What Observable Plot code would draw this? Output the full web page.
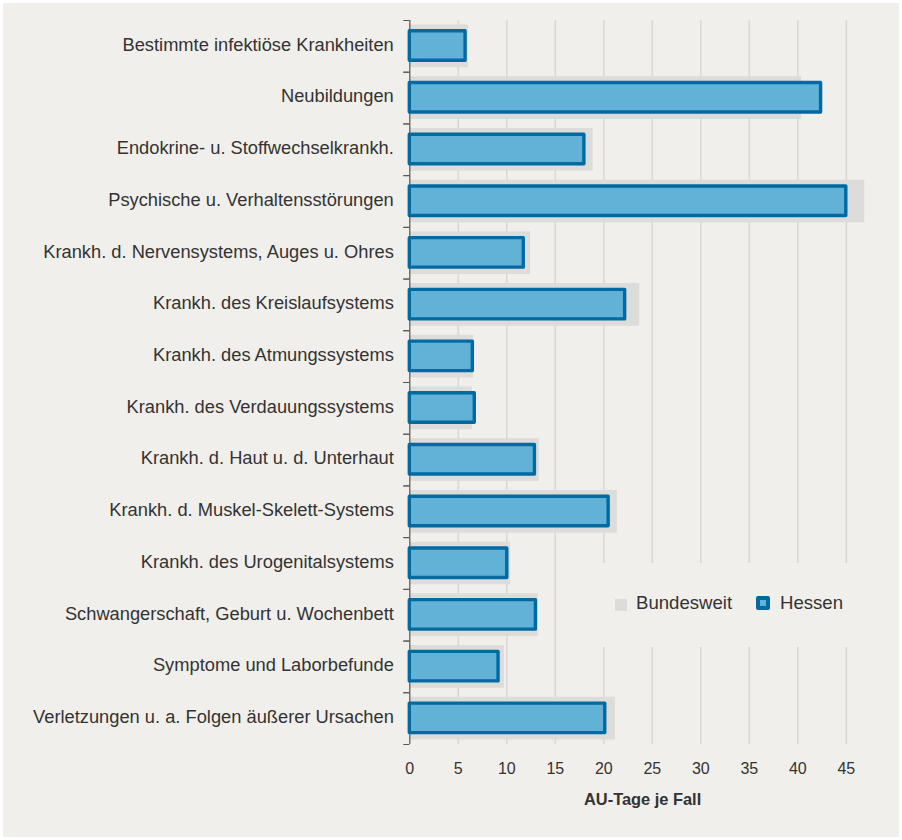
<!DOCTYPE html>
<html>
<head>
<meta charset="utf-8">
<script src="https://cdn.jsdelivr.net/npm/d3@7"></script>
<script src="https://cdn.jsdelivr.net/npm/@observablehq/plot@0.6"></script>
<style>
  html, body { margin: 0; padding: 0; background: #ffffff; }
  #wrap { position: absolute; left: 3px; top: 3px; width: 896px; height: 834px; background: #f1efeb; overflow: hidden; }
  #legend { position: absolute; left: 575px; top: 560px; width: 292px; height: 84px; background: #f1efeb;
            font-family: "Liberation Sans", Arial, sans-serif; font-size: 18.6px; color: #333; }
  #legend .sw { position: absolute; box-sizing: border-box; }
  #legend .lbl { position: absolute; line-height: 18px; white-space: nowrap; }
</style>
</head>
<body>
<div id="wrap"></div>
<script>
const categories = [
  "Bestimmte infektiöse Krankheiten",
  "Neubildungen",
  "Endokrine- u. Stoffwechselkrankh.",
  "Psychische u. Verhaltensstörungen",
  "Krankh. d. Nervensystems, Auges u. Ohres",
  "Krankh. des Kreislaufsystems",
  "Krankh. des Atmungssystems",
  "Krankh. des Verdauungssystems",
  "Krankh. d. Haut u. d. Unterhaut",
  "Krankh. d. Muskel-Skelett-Systems",
  "Krankh. des Urogenitalsystems",
  "Schwangerschaft, Geburt u. Wochenbett",
  "Symptome und Laborbefunde",
  "Verletzungen u. a. Folgen äußerer Ursachen"
];
const bundesweit = [6.05, 40.4, 18.9, 46.9, 12.45, 23.7, 6.6, 6.45, 13.35, 21.4, 10.4, 13.25, 9.75, 21.2];
const hessen     = [5.75, 42.4, 18.0, 45.0, 11.75, 22.2, 6.5, 6.7, 12.9, 20.5, 10.05, 13.0, 9.15, 20.15];
const xTicks = [0, 5, 10, 15, 20, 25, 30, 35, 40, 45];
const gridTicks = [5, 10, 15, 20, 25, 30, 35, 40, 45];
const xLabel = "AU-Tage je Fall";
const legendLabels = ["Bundesweit", "Hessen"];

const rowsB = categories.map((c, i) => ({cat: c, value: bundesweit[i]}));
const rowsH = categories.map((c, i) => ({cat: c, value: hessen[i]}));

const W = 896, H = 834;
const mTop = 17, mBottom = 93, mLeft = 406.3, mRight = 24.1;
const step = (H - mTop - mBottom) / categories.length;

const chart = Plot.plot({
  width: W,
  height: H,
  marginTop: mTop,
  marginBottom: mBottom,
  marginLeft: mLeft,
  marginRight: mRight,
  style: {background: "transparent", fontFamily: "'Liberation Sans', Arial, sans-serif", fontSize: "18px", color: "#333", overflow: "visible"},
  x: {domain: [0, 48]},
  y: {domain: categories, padding: 0, align: 0.5, round: false},
  marks: [
    Plot.gridX(gridTicks, {stroke: "#dad8d4", strokeOpacity: 1, strokeWidth: 1.6}),
    Plot.barX(rowsB, {y: "cat", x1: 0, x2: "value", fill: "#dcdcda", insetTop: 4.5, insetBottom: 4.5}),
    Plot.ruleX([0], {stroke: "#555", strokeWidth: 1.2}),
    Plot.barX(rowsH, {y: "cat", x1: 0, x2: "value", fill: "#62b2d8", stroke: "#006aa1", strokeWidth: 3.4,
                      strokeLinejoin: "round", insetTop: 10.8, insetBottom: 11.4}),
    Plot.axisY({tickSize: 0, tickPadding: 16, fontSize: 18.3, fill: "#333", label: null, dy: -1.5}),
    Plot.axisY({tickSize: 6, tickFormat: () => "", dy: -step / 2, stroke: "#555", label: null}),
    Plot.axisY({tickSize: 6, tickFormat: () => "", dy: step / 2, stroke: "#555", label: null}),
    Plot.axisX({ticks: xTicks, tickSize: 0, tickPadding: 18, fontSize: 16, fill: "#333", label: null}),
    Plot.text([xLabel], {frameAnchor: "bottom", dy: 60, fontWeight: "bold", fontSize: 16.4, fill: "#333"})
  ]
});
const wrap = document.getElementById("wrap");
wrap.appendChild(chart);

// Legend (HTML overlay)
const legend = document.createElement("div");
legend.id = "legend";
legend.innerHTML = `
  <div class="sw" style="left:37px;top:36px;width:12px;height:12px;background:#dcdcda;"></div>
  <div class="lbl" style="left:58px;top:31px;">${legendLabels[0]}</div>
  <div class="sw" style="left:178px;top:33px;width:14px;height:14px;background:#62b2d8;border:4px solid #006aa1;border-radius:2px;"></div>
  <div class="lbl" style="left:202px;top:31px;">${legendLabels[1]}</div>
`;
wrap.appendChild(legend);
</script>
</body>
</html>
